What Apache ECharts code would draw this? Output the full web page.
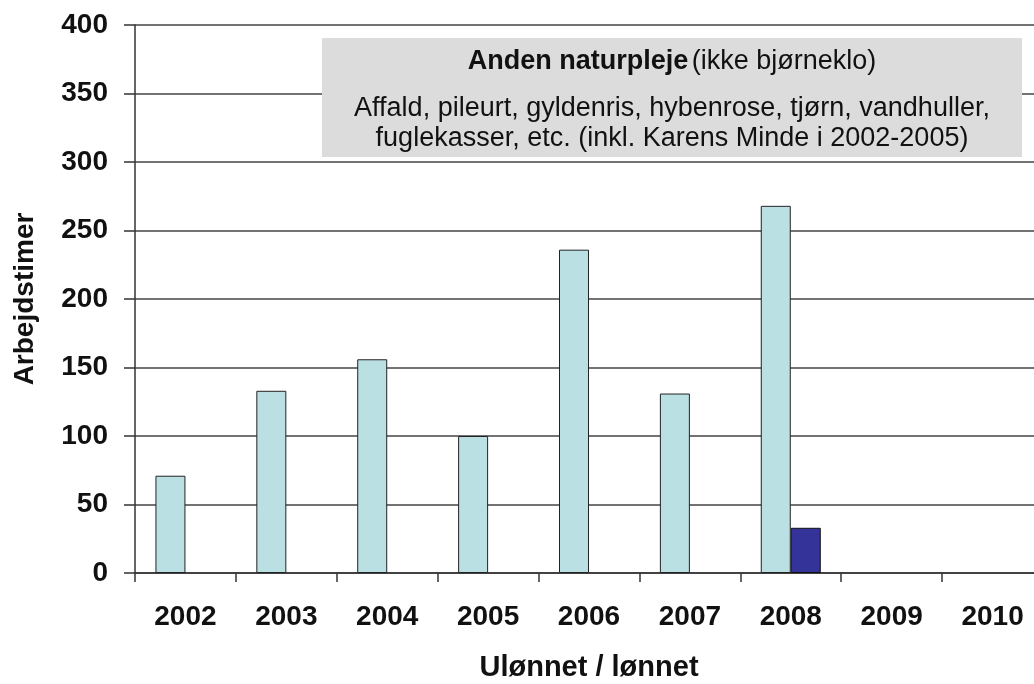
<!DOCTYPE html>
<html><head><meta charset="utf-8">
<script src="https://cdn.jsdelivr.net/npm/echarts@6/dist/echarts.min.js"></script>
<style>html,body{margin:0;padding:0;background:#fff}#c{width:1034px;height:684px}</style>
</head><body><div id="c"></div>
<script>
const categories = ['2002','2003','2004','2005','2006','2007','2008','2009','2010'];
const ulonnet = [71, 133, 156, 100, 236, 131, 268, null, null];
const lonnet = [null, null, null, null, null, null, 33, null, null];
const yTicks = [0, 50, 100, 150, 200, 250, 300, 350, 400];

const chart = echarts.init(document.getElementById('c'));
const font = 'Liberation Sans, Arial, sans-serif';
chart.setOption({
  animation: false,
  backgroundColor: '#fff',
  grid: { left: 135, top: 25, width: 908, height: 548, outerBoundsMode: 'none', containLabel: false },
  xAxis: {
    type: 'category', data: categories,
    name: 'Ulønnet / lønnet', nameLocation: 'middle', nameGap: 80,
    nameTextStyle: { fontFamily: font, fontWeight: 'bold', fontSize: 29, color: '#111' },
    axisLine: { lineStyle: { color: '#333', width: 1.5 } },
    axisTick: { show: true, length: 9, alignWithLabel: false, lineStyle: { color: '#333', width: 1.5 } },
    axisLabel: { fontFamily: font, fontWeight: 'bold', fontSize: 28, color: '#111', margin: 30 }
  },
  yAxis: {
    type: 'value', min: yTicks[0], max: yTicks[yTicks.length - 1], interval: 50,
    name: 'Arbejdstimer', nameLocation: 'middle', nameGap: 96,
    nameTextStyle: { fontFamily: font, fontWeight: 'bold', fontSize: 28, color: '#111' },
    axisLine: { show: true, lineStyle: { color: '#333', width: 1.5 } },
    axisTick: { show: true, length: 11, lineStyle: { color: '#333', width: 1.5 } },
    axisLabel: { fontFamily: font, fontWeight: 'bold', fontSize: 28, color: '#111', margin: 27 },
    splitLine: { lineStyle: { color: '#444', width: 1.5 } }
  },
  series: [
    { name: 'Ulønnet', type: 'bar', data: ulonnet, barWidth: 30, barGap: '0%',
      itemStyle: { color: '#BBE0E3', borderColor: '#222', borderWidth: 1 } },
    { name: 'Lønnet', type: 'bar', data: lonnet, barWidth: 30, barGap: '0%',
      itemStyle: { color: '#333399', borderColor: '#111', borderWidth: 1 } }
  ],
  graphic: [
    { type: 'rect', z: 100, shape: { x: 322, y: 38, width: 700, height: 119 },
      style: { fill: '#DCDCDC' } },
    { type: 'text', z: 101, x: 672, y: 62,
      style: { text: '{b|Anden naturpleje} {r|(ikke bjørneklo)}', align: 'center', verticalAlign: 'middle',
        rich: { b: { fontFamily: font, fontWeight: 'bold', fontSize: 27, fill: '#111' },
                r: { fontFamily: font, fontSize: 27, fill: '#111' } } } },
    { type: 'text', z: 101, x: 672, y: 124,
      style: { text: 'Affald, pileurt, gyldenris, hybenrose, tjørn, vandhuller,\nfuglekasser, etc. (inkl. Karens Minde i 2002-2005)',
        align: 'center', verticalAlign: 'middle', fontFamily: font, fontSize: 27, lineHeight: 30, fill: '#111' } }
  ]
});
</script></body></html>
